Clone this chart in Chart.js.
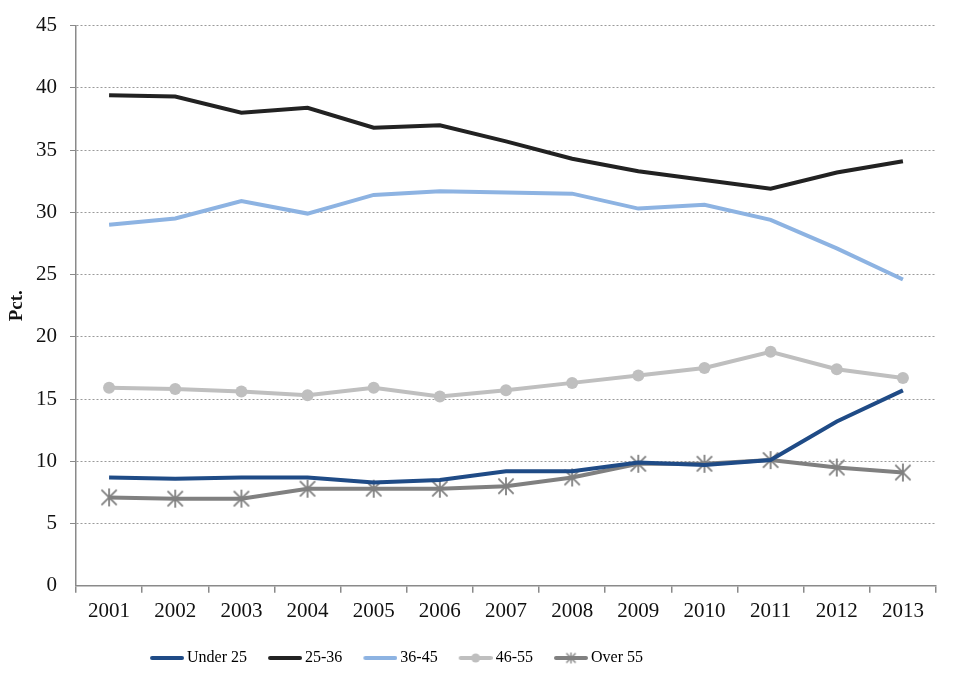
<!DOCTYPE html>
<html>
<head>
<meta charset="utf-8">
<script src="https://cdn.jsdelivr.net/npm/chart.js@4.4.0/dist/chart.umd.min.js"></script>
<style>
  html, body { margin: 0; padding: 0; background: #fff; }
  #wrap { width: 960px; height: 677px; }
</style>
</head>
<body>
<div id="wrap"><canvas id="chart"></canvas></div>
<script>
// data
const years = ['2001', '2002', '2003', '2004', '2005', '2006', '2007', '2008', '2009', '2010', '2011', '2012', '2013'];
const under25 = [8.7, 8.6, 8.7, 8.7, 8.3, 8.5, 9.2, 9.2, 9.9, 9.7, 10.1, 13.2, 15.7];
const age25to36 = [39.4, 39.3, 38.0, 38.4, 36.8, 37.0, 35.7, 34.3, 33.3, 32.6, 31.9, 33.2, 34.1];
const age36to45 = [29.0, 29.5, 30.9, 29.9, 31.4, 31.7, 31.6, 31.5, 30.3, 30.6, 29.4, 27.1, 24.6];
const age46to55 = [15.9, 15.8, 15.6, 15.3, 15.9, 15.2, 15.7, 16.3, 16.9, 17.5, 18.8, 17.4, 16.7];
const over55 = [7.1, 7.0, 7.0, 7.8, 7.8, 7.8, 8.0, 8.7, 9.8, 9.8, 10.1, 9.5, 9.1];
const yTicks = [0, 5, 10, 15, 20, 25, 30, 35, 40, 45];

const serif = '"Liberation Serif", "Times New Roman", serif';

// asterisk marker like the spreadsheet one (X plus a vertical bar)
function starMarker(size, color, width) {
  const c = document.createElement('canvas');
  c.width = size; c.height = size;
  const g = c.getContext('2d');
  const m = size / 2, r = size / 2 - 1;
  g.strokeStyle = color;
  g.lineWidth = width;
  g.beginPath();
  g.moveTo(m, m - r); g.lineTo(m, m + r);
  const d = r * 0.85;
  g.moveTo(m - d, m - d); g.lineTo(m + d, m + d);
  g.moveTo(m + d, m - d); g.lineTo(m - d, m + d);
  g.stroke();
  return c;
}

// legend swatch: short line with the marker in the middle
// (blank strip on the left so the text sits close to the line)
function legendSwatch(color, marker) {
  const c = document.createElement('canvas');
  c.width = 40; c.height = 14;
  const g = c.getContext('2d');
  g.strokeStyle = color;
  g.lineWidth = 4;
  g.lineCap = 'round';
  g.beginPath(); g.moveTo(8, 7); g.lineTo(38, 7); g.stroke();
  if (marker === 'circle') {
    g.fillStyle = color;
    g.beginPath(); g.arc(23, 7, 4.5, 0, Math.PI * 2); g.fill();
  } else if (marker === 'star') {
    g.drawImage(starMarker(13, color, 1.3), 16.5, 0.5);
  }
  return c;
}

const series = [
  { label: 'Under 25', data: under25, color: '#1f4b86', marker: null },
  { label: '25-36', data: age25to36, color: '#222222', marker: null },
  { label: '36-45', data: age36to45, color: '#8db3e2', marker: null },
  { label: '46-55', data: age46to55, color: '#bfbfbf', marker: 'circle' },
  { label: 'Over 55', data: over55, color: '#808080', marker: 'star' }
];

const datasets = series.map(s => ({
  label: s.label,
  data: s.data,
  borderColor: s.color,
  backgroundColor: s.color,
  borderWidth: 4,
  tension: 0,
  fill: false,
  pointStyle: s.marker === 'star' ? starMarker(20, s.color, 1.8) : 'circle',
  pointRadius: s.marker === 'circle' ? 6 : (s.marker === 'star' ? 10 : 0),
  pointHoverRadius: 0,
  pointBorderWidth: 0,
  legendSwatch: legendSwatch(s.color, s.marker)
}));

const ctx = document.getElementById('chart').getContext('2d');
new Chart(ctx, {
  type: 'line',
  data: { labels: years, datasets: datasets },
  options: {
    responsive: true,
    maintainAspectRatio: false,
    animation: false,
    layout: { padding: { left: 6, right: 24, top: 24, bottom: 1 } },
    plugins: {
      tooltip: { enabled: false },
      legend: {
        position: 'bottom',
        labels: {
          usePointStyle: true,
          pointStyleWidth: 30,
          color: '#111',
          font: { family: serif, size: 16 },
          padding: 20,
          generateLabels: chart => chart.data.datasets.map((d, i) => ({
            text: d.label,
            pointStyle: d.legendSwatch,
            fillStyle: d.borderColor,
            strokeStyle: d.borderColor,
            lineWidth: 0,
            hidden: false,
            datasetIndex: i
          }))
        }
      }
    },
    scales: {
      x: {
        offset: true,
        grid: {
          offset: true,
          drawOnChartArea: false,
          drawTicks: true,
          tickLength: 7,
          color: '#8a8a8a',
          lineWidth: 1.5
        },
        border: { color: '#8a8a8a', width: 1.5 },
        ticks: { color: '#111', font: { family: serif, size: 21 }, padding: 6 }
      },
      y: {
        min: 0,
        max: 45,
        afterBuildTicks: axis => { axis.ticks = yTicks.map(v => ({ value: v })); },
        afterFit: axis => { axis.width = 70; },
        grid: {
          color: '#9a9a9a',
          lineWidth: ctx => (ctx.tick && ctx.tick.value === 0 ? 0 : 1),
          drawTicks: true,
          tickLength: 6,
          tickColor: '#8a8a8a'
        },
        border: { color: '#8a8a8a', width: 1.5, dash: [2, 2] },
        ticks: { color: '#111', font: { family: serif, size: 21 }, padding: 13 },
        title: {
          display: true,
          text: 'Pct.',
          color: '#111',
          font: { family: serif, size: 19, weight: 'bold' },
          padding: { top: 0, bottom: 7 }
        }
      }
    }
  },
  plugins: [{
    // the legend in the reference sits left of centre
    id: 'legendShift',
    afterLayout(chart) {
      chart.legend.right -= 150;
    }
  }]
});
</script>
</body>
</html>
